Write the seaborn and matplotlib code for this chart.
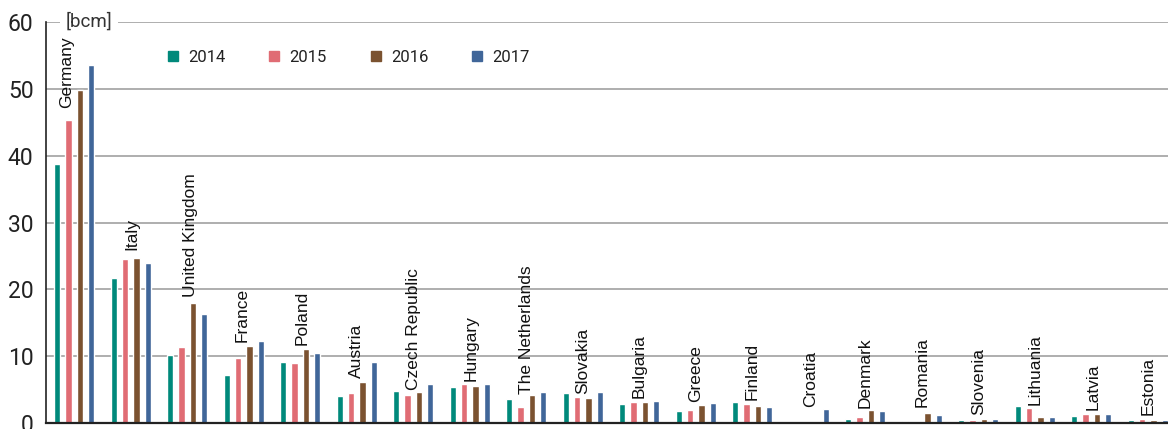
import matplotlib
matplotlib.use("Agg")
import matplotlib.pyplot as plt
from matplotlib.lines import Line2D
import numpy as np
import pandas as pd
import seaborn as sns

# ---------------- data ----------------
countries = ["Germany", "Italy", "United Kingdom", "France", "Poland", "Austria",
             "Czech Republic", "Hungary", "The Netherlands", "Slovakia", "Bulgaria",
             "Greece", "Finland", "Croatia", "Denmark", "Romania", "Slovenia",
             "Lithuania", "Latvia", "Estonia"]
years = ["2014", "2015", "2016", "2017"]
v2014 = [38.7, 21.7, 10.2, 7.2, 9.2, 4.0, 4.8, 5.4, 3.6, 4.5, 2.9, 1.8, 3.2, 0.0, 0.55, 0.35, 0.5, 2.6, 1.1, 0.5]
v2015 = [45.4, 24.6, 11.3, 9.8, 9.0, 4.5, 4.2, 5.9, 2.4, 3.9, 3.2, 2.0, 2.9, 0.0, 0.85, 0.2, 0.5, 2.3, 1.4, 0.65]
v2016 = [49.9, 24.7, 18.0, 11.5, 11.1, 6.2, 4.7, 5.5, 4.2, 3.8, 3.2, 2.7, 2.6, 0.0, 1.9, 1.5, 0.65, 0.95, 1.4, 0.5]
v2017 = [53.5, 23.9, 16.3, 12.3, 10.5, 9.1, 5.9, 5.9, 4.7, 4.7, 3.3, 3.0, 2.4, 2.1, 1.85, 1.25, 0.65, 0.95, 1.4, 0.5]
y_ticks = [0, 10, 20, 30, 40, 50, 60]
unit_label = "[bcm]"

# ---------------- layout / style ----------------
colors = ["#00897B", "#E06C74", "#7B5230", "#406699"]
label_y = [47.2, 25.9, 18.8, 12.1, 11.7, 6.7, 4.9, 6.3, 4.4, 4.4, 3.8, 3.2, 3.5,
           2.4, 2.3, 2.4, 1.2, 2.7, 2.0, 1.2]
label_dx = [-0.13, 0.02, 0.05, -0.03, 0.03, 0.0, 0.0, 0.03, 0.0, 0.0, 0.0, 0.0, 0.0,
            0.03, 0.0, 0.0, 0.0, 0.0, 0.03, 0.0]

rows = []
for yr, vals in zip(years, [v2014, v2015, v2016, v2017]):
    for c, v in zip(countries, vals):
        rows.append({"country": c, "year": yr, "value": v})
df = pd.DataFrame(rows)

sns.set_style("white")
plt.rcParams["font.family"] = ["Roboto", "DejaVu Sans"]

W, H = 1168, 429
fig = plt.figure(figsize=(W / 100, H / 100), dpi=100)
left_px, right_px, top_px, bottom_px = 46, 1176, 22, 423
ax_w, ax_h = right_px - left_px, bottom_px - top_px
ax = fig.add_axes([left_px / W, (H - bottom_px) / H, ax_w / W, ax_h / H])

sns.barplot(data=df, x="country", y="value", hue="year", order=countries,
            hue_order=years, palette=colors, width=0.8, gap=0.45,
            saturation=1, legend=False, ax=ax, errorbar=None)

ax.set_xlim(-0.5, len(countries) - 0.5)
ax.set_ylim(0, 60)
ax.set_yticks(y_ticks)
ax.set_yticklabels([str(t) for t in y_ticks], fontsize=16.5, color="#222222")
ax.tick_params(axis="y", length=0, pad=9)
ax.set_xlabel("")
ax.set_ylabel("")

# x: no labels, small inward ticks between groups
ax.set_xticks([])
ax.set_xticks(np.arange(0.5, len(countries) - 0.5, 1), minor=True)
ax.tick_params(axis="x", which="minor", direction="in", length=8, width=1.3,
               color="#333333")

ax.yaxis.grid(True, color="#a8a8a8", linewidth=1.3)
ax.set_axisbelow(True)
for s in ["top", "right"]:
    ax.spines[s].set_visible(False)
ax.spines["left"].set_color("#222222")
ax.spines["left"].set_linewidth(1.2)
ax.spines["bottom"].set_color("#222222")
ax.spines["bottom"].set_linewidth(1.6)

# unit label interrupting the top grid line
ax.text((66 - left_px) / ax_w, 60, unit_label, transform=ax.get_yaxis_transform(),
        ha="left", va="center", fontsize=13.5, color="#333333",
        bbox=dict(facecolor="white", edgecolor="none", pad=4), zorder=5)

# country labels
for i, (c, ly, dx) in enumerate(zip(countries, label_y, label_dx)):
    ax.text(i + dx, ly, c, rotation=90, ha="center", va="bottom",
            fontsize=12.5, family=["Liberation Sans", "DejaVu Sans"], color="#111111")

# legend
handles = [Line2D([0], [0], marker="s", linestyle="none", markersize=7,
                  markerfacecolor=col, markeredgecolor=col) for col in colors]
leg = ax.legend(handles, years, ncol=4, frameon=False, fontsize=12,
                loc="center left",
                bbox_to_anchor=((168 - left_px) / ax_w, 1 - (57 - top_px) / ax_h),
                handlelength=0.6, handletextpad=0.6, columnspacing=2.65,
                borderpad=0, borderaxespad=0)
for t in leg.get_texts():
    t.set_color("#222222")

fig.savefig("out.png", dpi=100)
